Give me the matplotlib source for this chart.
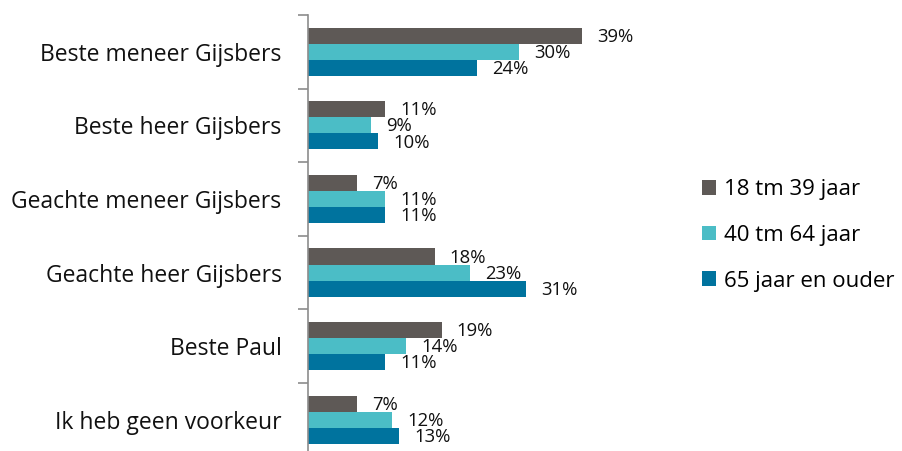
import matplotlib
matplotlib.use("Agg")
import matplotlib.pyplot as plt
import numpy as np

categories = ["Beste meneer Gijsbers", "Beste heer Gijsbers", "Geachte meneer Gijsbers",
              "Geachte heer Gijsbers", "Beste Paul", "Ik heb geen voorkeur"]
series_names = ["18 tm 39 jaar", "40 tm 64 jaar", "65 jaar en ouder"]
s18_39 = [39, 11, 7, 18, 19, 7]
s40_64 = [30, 9, 11, 23, 14, 12]
s65 = [24, 10, 11, 31, 11, 13]
colors = ["#5E5956", "#4BBDC6", "#00739E"]

plt.rcParams['font.family'] = ['Open Sans', 'DejaVu Sans']

fig = plt.figure(figsize=(9.02, 4.51), dpi=100)
W, H = 902, 451
left, right_px = 308, 308 + 7.03 * 50
top, bottom = 15, 456.5
ax = fig.add_axes([left / W, 1 - bottom / H, (right_px - left) / W, (bottom - top) / H])

y = np.arange(len(categories))
h = 0.218
for k, (vals, name, c) in enumerate(zip([s18_39, s40_64, s65], series_names, colors)):
    pos = y + (k - 1) * h
    ax.barh(pos, vals, height=h, color=c, label=name)
    for p, v in zip(pos, vals):
        ax.annotate(f"{v}%", (v, p), xytext=(11, -0.8), textcoords="offset points",
                    ha="left", va="center", fontsize=13.3, color="#111111")

ax.set_xlim(0, 50)
ax.set_ylim(len(categories) - 0.5, -0.5)
for s in ["top", "right", "bottom"]:
    ax.spines[s].set_visible(False)
ax.spines["left"].set_color("#8c8c8c")
ax.spines["left"].set_linewidth(1.2)
ax.set_xticks([])
ax.set_yticks(np.arange(len(categories)) - 0.5)
ax.set_yticklabels([])
ax.tick_params(axis="y", which="major", length=7.5, width=1.2, color="#8c8c8c", direction="out")
ax.set_yticks(y, minor=True)
ax.set_yticklabels(categories, minor=True, fontsize=16.5, color="#111111")
ax.tick_params(axis="y", which="minor", length=0, pad=19)

leg = fig.legend(loc="upper left", bbox_to_anchor=(693 / W, 1 - 170 / H), frameon=False,
                 fontsize=16, handlelength=0.65, handleheight=0.65, handletextpad=0.35,
                 labelspacing=1.12, borderaxespad=0)

fig.savefig("out.png", dpi=100)
